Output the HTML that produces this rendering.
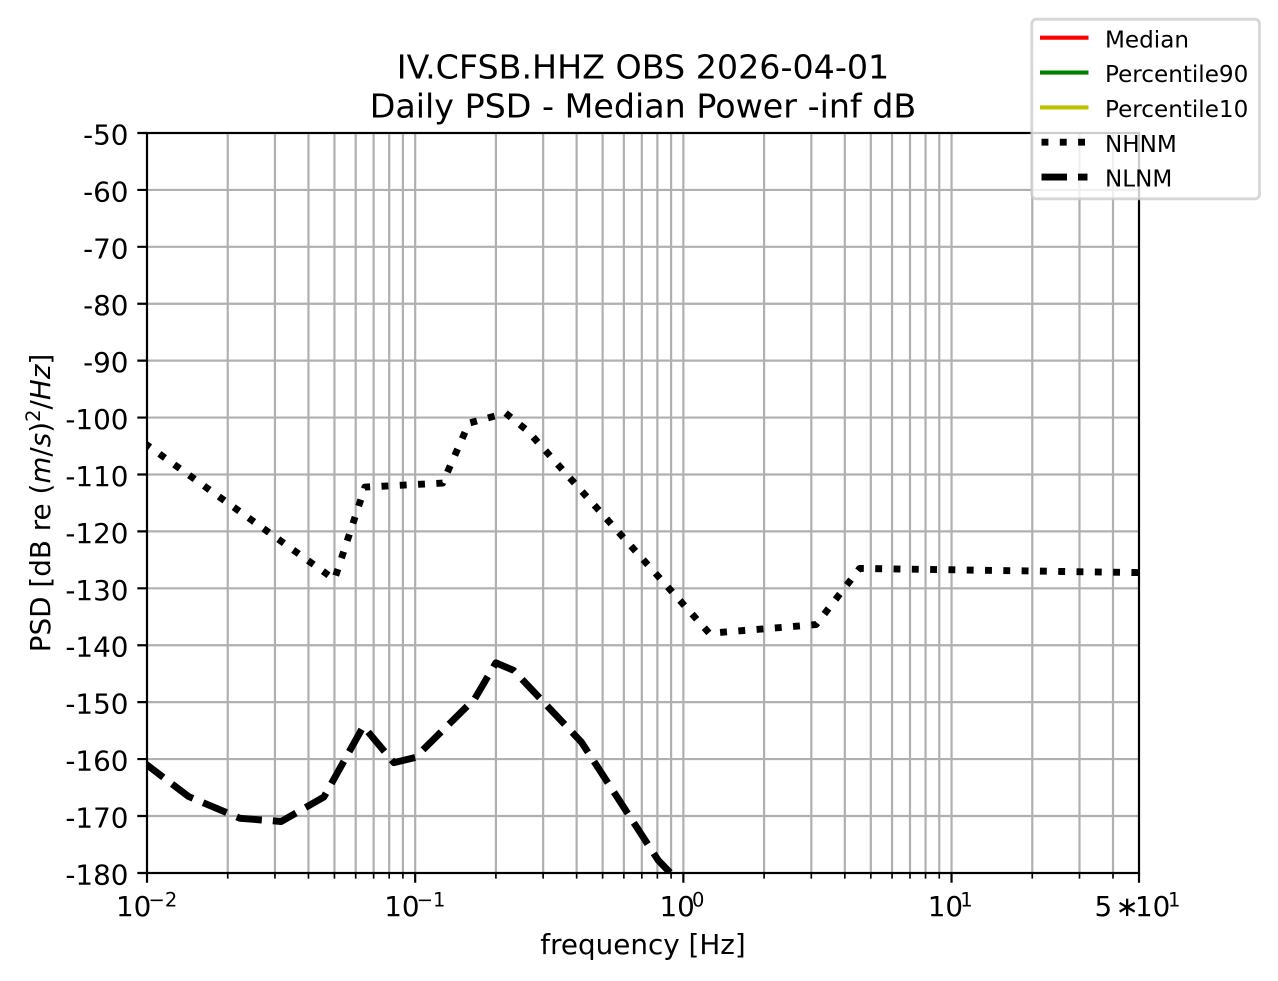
<!DOCTYPE html>
<html>
<head>
<meta charset="utf-8">
<style>
html,body{margin:0;padding:0;background:#fff;}
svg{display:block;}
text{font-family:"DejaVu Sans","Liberation Sans",sans-serif;fill:#000;}
</style>
</head>
<body>
<svg width="1278" height="981" viewBox="0 0 1278 981" xmlns="http://www.w3.org/2000/svg">
<rect x="0" y="0" width="1278" height="981" fill="#fff"/>
<defs>
<clipPath id="ax"><rect x="147" y="133" width="992" height="740"/></clipPath>
</defs>

<!-- grid -->
<g stroke="#b0b0b0" stroke-width="2.2" fill="none">
<path d="M227.73 133V873M274.95 133V873M308.46 133V873M334.45 133V873M355.69 133V873M373.64 133V873M389.19 133V873M402.91 133V873M415.18 133V873M495.91 133V873M543.13 133V873M576.64 133V873M602.63 133V873M623.87 133V873M641.82 133V873M657.37 133V873M671.09 133V873M683.36 133V873M764.09 133V873M811.31 133V873M844.82 133V873M870.81 133V873M892.05 133V873M910 133V873M925.55 133V873M939.27 133V873M951.54 133V873M1032.27 133V873M1079.49 133V873M1113 133V873"/>
<path d="M147 189.92H1139M147 246.83H1139M147 303.75H1139M147 360.66H1139M147 417.58H1139M147 474.49H1139M147 531.41H1139M147 588.32H1139M147 645.24H1139M147 702.15H1139M147 759.07H1139M147 815.98H1139"/>
</g>

<!-- data -->
<g clip-path="url(#ax)" fill="none" stroke="#000" stroke-width="6.9" stroke-linecap="butt" stroke-linejoin="round">
<polyline stroke-dasharray="6.9 11.4" points="144.5,443.2 334.45,579.5 364.9,487.1 442.6,483.1 469,423.1 505.6,413.1 527.9,431.1 709.3,633.3 816.1,624.6 859.7,568.4 1145,572.7"/>
<polyline stroke-dasharray="25.5 11" points="143,761.9 188.54,796.5 240,818.3 281.17,821.5 323.9,797 363.4,726.3 393.9,762.7 415.2,757.5 474.7,698.8 495.9,662.8 513.5,670.3 581.4,742.1 658.3,860.4 709.3,913.4"/>
</g>

<!-- spines -->
<rect x="147" y="133" width="992" height="740" fill="none" stroke="#000" stroke-width="2.2"/>

<!-- y ticks -->
<g stroke="#000" stroke-width="2.2">
<path d="M137.3 133H147M137.3 189.92H147M137.3 246.83H147M137.3 303.75H147M137.3 360.66H147M137.3 417.58H147M137.3 474.49H147M137.3 531.41H147M137.3 588.32H147M137.3 645.24H147M137.3 702.15H147M137.3 759.07H147M137.3 815.98H147M137.3 873H147"/>
<path d="M147 873V882.7M415.18 873V882.7M683.36 873V882.7M951.54 873V882.7M1139 873V882.7"/>
</g>
<g stroke="#000" stroke-width="1.67">
<path d="M227.73 873V878.6M274.95 873V878.6M308.46 873V878.6M334.45 873V878.6M355.69 873V878.6M373.64 873V878.6M389.19 873V878.6M402.91 873V878.6M495.91 873V878.6M543.13 873V878.6M576.64 873V878.6M602.63 873V878.6M623.87 873V878.6M641.82 873V878.6M657.37 873V878.6M671.09 873V878.6M764.09 873V878.6M811.31 873V878.6M844.82 873V878.6M870.81 873V878.6M892.05 873V878.6M910 873V878.6M925.55 873V878.6M939.27 873V878.6M1032.27 873V878.6M1079.49 873V878.6M1113 873V878.6"/>
</g>

<!-- y tick labels -->
<g font-size="27.8" text-anchor="end">
<text x="128.5" y="144.5">-50</text>
<text x="128.5" y="201.4">-60</text>
<text x="128.5" y="258.3">-70</text>
<text x="128.5" y="315.2">-80</text>
<text x="128.5" y="372.2">-90</text>
<text x="128.5" y="429.1">-100</text>
<text x="128.5" y="486">-110</text>
<text x="128.5" y="542.9">-120</text>
<text x="128.5" y="599.8">-130</text>
<text x="128.5" y="656.7">-140</text>
<text x="128.5" y="713.7">-150</text>
<text x="128.5" y="770.6">-160</text>
<text x="128.5" y="827.5">-170</text>
<text x="128.5" y="884.5">-180</text>
</g>

<!-- x tick labels -->
<g font-size="27.8">
<text x="116" y="916">10</text><text x="148.5" y="906.5" font-size="19.5">−2</text>
<text x="384.2" y="916">10</text><text x="416.7" y="906.5" font-size="19.5">−1</text>
<text x="659.5" y="916">10</text><text x="692" y="906.5" font-size="19.5">0</text>
<text x="927.7" y="916">10</text><text x="960.2" y="906.5" font-size="19.5">1</text>
<text x="1094.5" y="916">5</text><text x="1115.5" y="916">∗</text><text x="1135" y="916">10</text><text x="1168" y="906.5" font-size="19.5">1</text>
</g>

<!-- axis labels -->
<text x="643" y="954" font-size="27.8" text-anchor="middle">frequency [Hz]</text>
<text transform="translate(50,503) rotate(-90)" font-size="27.8" text-anchor="middle">PSD [dB re (<tspan font-style="italic">m</tspan>/<tspan font-style="italic">s</tspan>)<tspan font-size="19.5" dy="-10">2</tspan><tspan dy="10">/</tspan><tspan font-style="italic">Hz</tspan>]</text>

<!-- title -->
<text x="643" y="78.3" font-size="33.3" text-anchor="middle">IV.CFSB.HHZ OBS 2026-04-01</text>
<text x="643" y="117.7" font-size="33.3" text-anchor="middle">Daily PSD - Median Power -inf dB</text>

<!-- legend -->
<rect x="1031.8" y="19.2" width="227.7" height="179.6" rx="4.6" ry="4.6" fill="#fff" fill-opacity="0.8" stroke="#cccccc" stroke-opacity="0.8" stroke-width="2.78"/>
<g stroke-width="4.17" fill="none">
<line x1="1040" y1="37.7" x2="1088.5" y2="37.7" stroke="#ff0000"/>
<line x1="1040" y1="72.6" x2="1088.5" y2="72.6" stroke="#008000"/>
<line x1="1040" y1="107.4" x2="1088.5" y2="107.4" stroke="#bfbf00"/>
</g>
<g stroke="#000" stroke-width="6.9" fill="none" stroke-linecap="butt">
<line x1="1041.5" y1="142.2" x2="1088" y2="142.2" stroke-dasharray="6.9 11.4"/>
<line x1="1041.5" y1="177.1" x2="1087.5" y2="177.1" stroke-dasharray="25.5 11"/>
</g>
<g font-size="23.1">
<text x="1105" y="47.3">Median</text>
<text x="1105" y="82.1">Percentile90</text>
<text x="1105" y="116.9">Percentile10</text>
<text x="1105" y="151.8">NHNM</text>
<text x="1105" y="186.7">NLNM</text>
</g>
</svg>
</body>
</html>
